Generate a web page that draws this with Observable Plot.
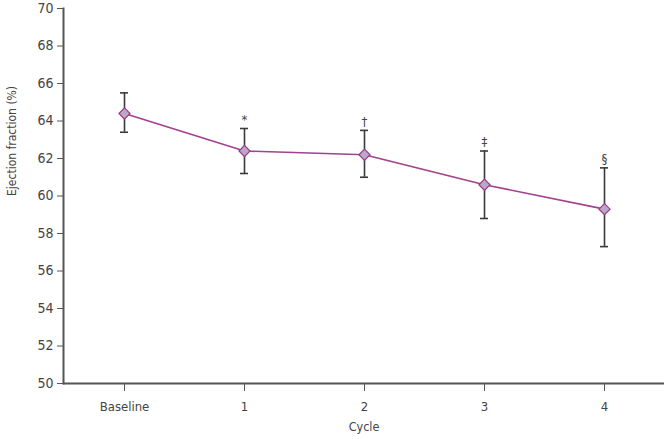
<!DOCTYPE html>
<html>
<head>
<meta charset="utf-8">
<script src="https://cdn.jsdelivr.net/npm/d3@7"></script>
<script src="https://cdn.jsdelivr.net/npm/@observablehq/plot@0.6"></script>
<style>
  html, body { margin: 0; padding: 0; background: #fff; }
  svg { font-family: "DejaVu Sans", sans-serif; font-stretch: condensed; overflow: visible; }
</style>
</head>
<body>
<div id="chart"></div>
<script>
const cycles = ["Baseline", "1", "2", "3", "4"];
const meanEF = [64.4, 62.4, 62.2, 60.6, 59.3];
const lowerEF = [63.4, 61.2, 61.0, 58.8, 57.3];
const upperEF = [65.5, 63.6, 63.5, 62.4, 61.5];
const marks = ["", "*", "†", "‡", "§"];
const yTicks = [50, 52, 54, 56, 58, 60, 62, 64, 66, 68, 70];

const data = cycles.map((c, i) => ({cycle: c, mean: meanEF[i], lo: lowerEF[i], hi: upperEF[i], mark: marks[i]}));

const capFrac = 8 / 120.2;
const pi = 1 - capFrac;

const chart = Plot.plot({
  width: 667,
  height: 439,
  marginLeft: 63,
  marginRight: 3,
  marginTop: 8,
  marginBottom: 56,
  style: {fontSize: "13px", color: "#444", background: "#fff", overflow: "visible"},
  x: {type: "band", domain: cycles, paddingInner: pi, paddingOuter: pi / 2, label: null},
  y: {domain: [50, 70], label: null},
  marks: [
    Plot.frame({anchor: "left", stroke: "#555", strokeWidth: 2}),
    Plot.ruleY([50], {stroke: "#555", strokeWidth: 2}),
    Plot.axisY({ticks: yTicks, tickSize: 6, tickPadding: 4, stroke: "#555", fill: "#444", fontSize: 14, label: null}),
    Plot.axisX({tickSize: 8, tickPadding: 10, stroke: "#555", fill: "#444", fontSize: 13, label: null}),
    Plot.text(["Ejection fraction (%)"], {frameAnchor: "left", dx: -51, rotate: -90, fontSize: 12, fill: "#444"}),
    Plot.text(["Cycle"], {frameAnchor: "bottom", dy: 47, fontSize: 12.5, fill: "#444"}),
    Plot.ruleX(data, {x: "cycle", y1: "lo", y2: "hi", stroke: "#3a3a3a", strokeWidth: 1.6}),
    Plot.tickY(data, {x: "cycle", y: "lo", stroke: "#3a3a3a", strokeWidth: 1.6}),
    Plot.tickY(data, {x: "cycle", y: "hi", stroke: "#3a3a3a", strokeWidth: 1.6}),
    Plot.line(data, {x: "cycle", y: "mean", stroke: "#a2418d", strokeWidth: 1.6}),
    Plot.dot(data, {x: "cycle", y: "mean", symbol: "diamond2", r: 5, fill: "#bba7c8", stroke: "#9a3a88", strokeWidth: 1.2}),
    Plot.text(data, {x: "cycle", y: "hi", text: "mark", dy: -9, fontSize: 13, fill: "#444"})
  ]
});
document.getElementById("chart").appendChild(chart);
</script>
</body>
</html>
